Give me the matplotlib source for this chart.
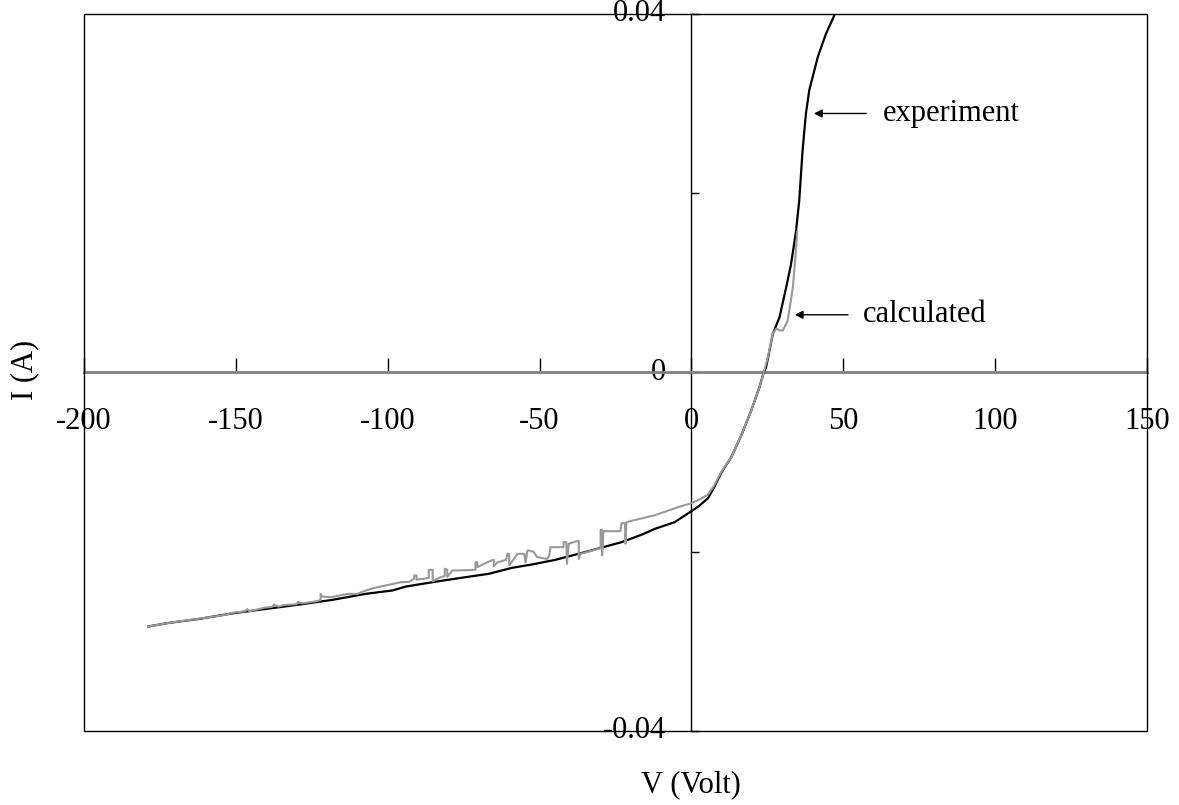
import numpy as np
import matplotlib
matplotlib.use("Agg")
import matplotlib.pyplot as plt
from matplotlib.patches import Rectangle

plt.rcParams['font.family'] = ['Liberation Serif', 'DejaVu Serif']

# experiment (black)
v_exp = [-178.8, -172.7, -161.8, -150.9, -139.9, -129.0, -118.1, -107.1, -98.4, -94.0,
         -83.1, -74.4, -66.7, -59.0, -52.5, -44.8, -33.9, -23.0, -16.4, -12.0,
         -5.5, -3.3, 0.0, 2.5, 5.5, 7.5, 9.8, 13.1, 16.4, 19.7, 22.4, 23.8,
         24.6, 26.8, 29.0, 31.2, 32.8, 34.4, 35.5, 36.6, 37.7, 38.8,
         41.6, 44.3, 47.0]
i_exp = [-0.02834, -0.02797, -0.02748, -0.02686, -0.02637, -0.02589, -0.02536, -0.02469, -0.02432, -0.02388,
         -0.02328, -0.02284, -0.02246, -0.02179, -0.02142, -0.02090, -0.01994, -0.01893, -0.01810, -0.01744,
         -0.01670, -0.01620, -0.01548, -0.01490, -0.01400, -0.01280, -0.01120, -0.00945, -0.00703, -0.00424,
         -0.00164, 0.0,
         0.0006, 0.0043, 0.00617, 0.0095, 0.0121, 0.01566, 0.0192, 0.0248, 0.0289, 0.0315,
         0.0352, 0.0378, 0.0398]

# calculated (grey), step-like with spikes
v_calc = [-178.8, -172.7, -161.8, -155.0, -153.0, -150.9, -147.0, -146.2, -145.5, -140.7,
          -138.0, -137.5, -136.0, -134.2, -130.0, -129.5, -128.0, -124.0, -122.1, -122.1,
          -121.5, -118.8, -116.0, -113.3, -110.0, -107.8, -105.6, -102.3, -95.7, -93.0,
          -91.3, -91.3, -90.5, -90.5, -88.0, -86.5, -86.5, -85.2, -85.2, -83.0,
          -81.2, -81.2, -80.4, -80.4, -78.7, -72.7, -71.1, -71.1, -70.5, -70.5,
          -68.3, -66.0, -65.0, -65.0, -64.0, -61.0, -60.6, -60.0, -60.0, -58.0,
          -57.3, -55.0, -54.6, -54.0, -53.5, -52.0, -50.8, -47.5, -46.8, -46.4,
          -42.1, -42.1, -41.2, -41.0, -40.4, -37.5, -37.1, -37.1, -36.5, -33.0,
          -29.9, -29.9, -29.4, -29.4, -29.0, -23.4, -23.0, -22.3, -21.9, -21.7,
          -21.4, -17.9, -12.4, -3.7, 0.0, 2.5, 5.5, 7.5, 9.8, 13.1, 16.4, 19.7,
          22.4, 23.8, 24.9, 26.8, 27.9, 29.0, 30.1, 31.7, 33.4, 34.4,
          34.8]
i_calc = [-0.02834, -0.02797, -0.02745, -0.02712, -0.02700, -0.02680, -0.02665, -0.02640, -0.02665, -0.02625,
          -0.02615, -0.02590, -0.02612, -0.02595, -0.02585, -0.02560, -0.02575, -0.02555, -0.02540, -0.02470,
          -0.02500, -0.02507, -0.02490, -0.02470, -0.02470, -0.02440, -0.02414, -0.02388, -0.02340, -0.02336,
          -0.02300, -0.02265, -0.02265, -0.02310, -0.02300, -0.02290, -0.02202, -0.02202, -0.02330, -0.02290,
          -0.02270, -0.02190, -0.02200, -0.02280, -0.02209, -0.02205, -0.02200, -0.02116, -0.02116, -0.02172,
          -0.02135, -0.02100, -0.02090, -0.02160, -0.02120, -0.02090, -0.02023, -0.02023, -0.02150, -0.02060,
          -0.02023, -0.02023, -0.02120, -0.01986, -0.01986, -0.02000, -0.02060, -0.02080, -0.02040, -0.01949,
          -0.01949, -0.01893, -0.01893, -0.02135, -0.01910, -0.01880, -0.01880, -0.02080, -0.02023, -0.01990,
          -0.01960, -0.01755, -0.01755, -0.02040, -0.01771, -0.01771, -0.01681, -0.01681, -0.01681, -0.01911,
          -0.01670, -0.01640, -0.01596, -0.01495, -0.01458, -0.01420, -0.01360, -0.01260, -0.01110, -0.00945,
          -0.00703, -0.00424,
          -0.00164, 0.0, 0.00134, 0.0043, 0.0049, 0.0047, 0.0047, 0.0058, 0.0095, 0.0136,
          0.01566]

x_ticks = [-200, -150, -100, -50, 0, 50, 100, 150]
y_ticks = [-0.04, -0.02, 0, 0.02, 0.04]
y_labels = ['-0.04', '', '0', '', '0.04']

fs = 22

fig = plt.figure(figsize=(11.79, 8.05), dpi=100)
ax = fig.add_axes([84 / 1179, 1 - 731 / 805, 1063 / 1179, 717 / 805])

ax.plot(v_exp, i_exp, color='black', lw=1.6, zorder=3)
ax.plot(v_calc, i_calc, color='#999999', lw=1.5, zorder=4)

ax.set_xlim(-200, 150)
ax.set_ylim(-0.04, 0.04)

# axes crossing at zero
ax.spines['left'].set_position(('data', 0))
ax.spines['bottom'].set_position(('data', 0))
ax.spines['bottom'].set_color('#808080')
ax.spines['bottom'].set_linewidth(2)
ax.spines['left'].set_linewidth(1)
ax.spines['top'].set_visible(False)
ax.spines['right'].set_visible(False)
ax.add_patch(Rectangle((0, 0), 1, 1, transform=ax.transAxes, fill=False,
                       edgecolor='black', lw=1, clip_on=False, zorder=5))

ax.set_xticks(x_ticks)
ax.set_xticklabels([str(t) for t in x_ticks])
ax.set_yticks(y_ticks)
ax.set_yticklabels(y_labels)
ax.tick_params(axis='x', direction='in', length=10, width=1, labelsize=fs, pad=25)
ax.tick_params(axis='y', direction='in', length=6, width=1, labelsize=fs, pad=18)
for lbl in ax.get_yticklabels():
    lbl.set_verticalalignment('center')

ax.annotate('', xy=(39.4, 0.0289), xytext=(58.5, 0.0289),
            arrowprops=dict(arrowstyle='-|>', color='black', lw=1, mutation_scale=12))
ax.text(63, 0.0289, 'experiment', fontsize=fs, va='center', ha='left')
ax.annotate('', xy=(33.1, 0.00644), xytext=(52.5, 0.00644),
            arrowprops=dict(arrowstyle='-|>', color='black', lw=1, mutation_scale=12))
ax.text(56.4, 0.00644, 'calculated', fontsize=fs, va='center', ha='left')

fig.text(691 / 1179, 1 - 785 / 805, 'V (Volt)', fontsize=fs, ha='center', va='center')
fig.text(25 / 1179, 1 - 370 / 805, 'I (A)', fontsize=fs, ha='center', va='center', rotation=90)

fig.savefig('out.png', dpi=100)
